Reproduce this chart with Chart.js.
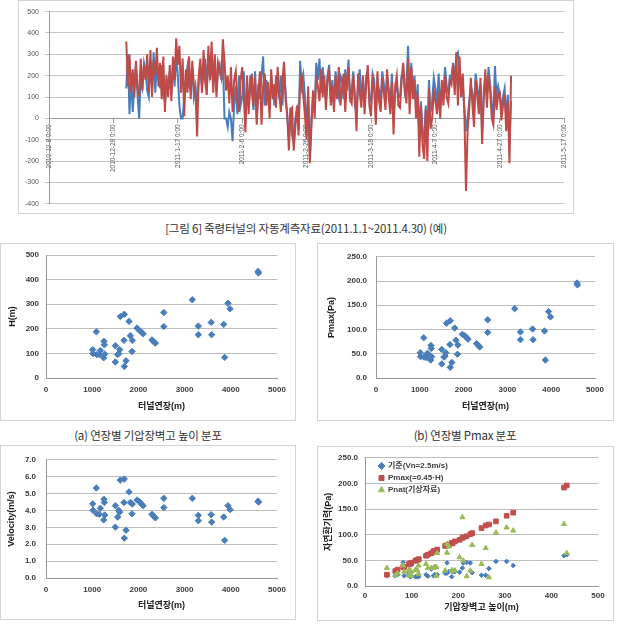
<!DOCTYPE html>
<html>
<head>
<meta charset="utf-8">
<script src="https://cdn.jsdelivr.net/npm/chart.js@4.4.1/dist/chart.umd.min.js"></script>
<style>
    body { margin: 0; background: #fff; width: 619px; height: 630px; position: relative; overflow: hidden; font-family: 'Noto Sans CJK KR', sans-serif; }
    canvas, .frame, .caption { position: absolute; }
    .frame { border: 1px solid #d4d4d4; box-sizing: border-box; }
    .caption { font-size: 11.5px; color: #333; white-space: nowrap; transform: translateX(-50%); line-height: 14px; letter-spacing: -0.2px; }
</style>
</head>
<body>
<div class="frame" style="left:18px;top:0;width:556px;height:214px"></div>
<canvas id="lineChart" width="556" height="214" style="left:18px;top:0"></canvas>
<div class="caption" style="left:306px;top:221px">[그림 6] 죽령터널의 자동계측자료(2011.1.1~2011.4.30) (예)</div>

<div class="frame" style="left:0;top:243px;width:296px;height:178px"></div>
<canvas id="chartH" width="296" height="178" style="left:0;top:243px"></canvas>
<div class="frame" style="left:317px;top:243px;width:297px;height:178px"></div>
<canvas id="chartPmax" width="297" height="178" style="left:317px;top:243px"></canvas>
<div class="caption" style="left:148px;top:428px">(a) 연장별 기압장벽고 높이 분포</div>
<div class="caption" style="left:465px;top:428px">(b) 연장별 Pmax 분포</div>

<div class="frame" style="left:0;top:445px;width:296px;height:175px"></div>
<canvas id="chartV" width="296" height="175" style="left:0;top:445px"></canvas>
<div class="frame" style="left:317px;top:446px;width:297px;height:175px"></div>
<canvas id="chartP" width="297" height="175" style="left:317px;top:446px"></canvas>

<script>
// ---- top chart: automatic measurement (12-hour samples from 2011-1-1) ----
const dateTickLabels = ['2010-12-8 0:00', '2010-12-28 0:00', '2011-1-17 0:00', '2011-2-6 0:00', '2011-2-26 0:00',
    '2011-3-18 0:00', '2011-4-7 0:00', '2011-4-27 0:00', '2011-5-17 0:00'];
const sampleStartDay = 24;   // days after 2010-12-8
const sampleStepDay = 0.5;

const redValues = [
    360, 150, 300, 120, 230, 100, 270, 140, 110, 280, 130, 250, 180, 300, 120, 320, 100, 270, 200, 330,
    150, 260, 90, 290, 30, 200, 100, 250, 80, 290, 180, 375, 250, 340, 120, 280, 10, 230, 120, 290,
    90, 270, 150, 110, -85, 200, 280, 120, 320, 170, 110, 340, 180, 360, 120, 300, 100, 260, 220, 190,
    370, 270, 130, 200, 70, 240, 30, 180, 220, 80, 30, 180, 240, 100, -65, 200, 20, 150, 210, 60,
    190, -30, 120, 220, -30, 150, 210, 60, 170, 0, 230, 90, 160, 50, 240, 120, 30, 180, 265, 80,
    20, -150, 40, 50, -150, -40, 60, -80, 180, 200, 100, 10, -100, 150, -210, -40, 130, 0, 200, 150,
    80, 230, 100, 200, 40, 180, 220, 60, 150, 30, 200, 90, 240, 60, 140, 210, 30, 180, 240, 90,
    70, 200, 110, -60, 210, 120, 50, 200, 20, 160, 250, 60, 10, 180, 140, -30, 220, 80, 30, 190,
    120, 40, 230, 100, 20, 170, -75, 150, 200, 60, 50, 180, 260, 150, 70, 280, 20, 240, 90, 180,
    0, 120, -180, 60, -120, -190, 40, -200, 140, -50, 0, 130, 80, 20, 120, 0, 180, 60, 200, 100,
    70, 180, 160, 250, 110, 310, 60, 290, 100, 210, 20, -340, -60, 40, 190, 60, -40, 180, 110, 20,
    190, -120, 80, 230, 50, 200, 130, 0, -30, 150, 40, 110, 120, -10, 60, 110, -60, 80, -210, 200
];
const blueValues = [
    140, 300, 20, 200, 30, 150, 250, 110, 0, 200, 150, 260, 220, 130, 100, 270, 150, 310, 120, 250,
    200, 140, 250, 110, 80, 180, 140, 220, 110, 260, 150, 300, 200, 60, 0, 0, 100, 180, 240, 150,
    130, 240, 100, 150, 60, 180, 230, 150, 200, 280, 150, 300, 200, 250, 150, 280, 120, 220, 250, 180,
    280, 0, 0, -40, 30, 0, -107, 60, 150, 20, 200, 60, 100, 220, -20, 150, 60, 200, 120, 40,
    220, 0, 160, 90, 200, 290, 60, 180, 100, 40, 200, 130, 60, 200, 140, 100, 200, 60, 230, 120,
    0, -100, 50, -80, -120, 0, 40, -50, 270, 150, 200, 100, -50, 100, -180, 0, 100, 50, 260, 180,
    280, 120, 240, 160, 90, 200, 250, 100, 180, 60, 220, 140, 100, 200, 180, 90, 230, 130, 275, 100,
    130, 220, 60, 20, 170, 230, 90, 180, 60, 200, 220, 100, 80, 210, 180, 20, 170, 130, 90, 220,
    160, 80, 200, 140, 60, 210, 0, 120, 160, 100, 100, 200, 210, 120, 150, 340, 100, 260, 130, 200,
    40, 160, -100, 80, -60, -100, 60, -80, 180, 30, 80, 190, 140, 60, 210, 50, 140, 120, 240, 150,
    120, 200, 200, 260, 150, 300, 310, 200, 120, 150, 50, -60, 0, 80, 150, 120, 40, 210, 150, 80,
    160, -60, 120, 200, 100, 240, 160, 60, 20, 245, 100, 150, 110, 40, 100, 140, 0, 110, -120, 80
];

// ---- tunnels (one entry per tunnel) ----
const tunnelLength = [4590, 4600, 3167, 3939, 3983, 2550, 2550, 3297, 3297, 3575, 3586, 3846, 3867, 1090, 1609,
    1695, 1797, 1970, 2027, 2063, 2100, 1825, 1868, 1688, 2294, 2330, 2367, 1255, 1263, 1010,
    1017, 1176, 1097, 1154, 1270, 1248, 1501, 1595, 1573, 1551, 1861, 1501, 1732, 1695];
const barrierHeight = [433, 427, 318, 304, 281, 266, 209, 211, 176, 226, 176, 218, 84, 188, 250,
    259, 230, 203, 193, 186, 180, 172, 153, 153, 155, 147, 142, 149, 135, 115,
    99, 112, 95, 95, 97, 82, 131, 115, 99, 95, 108, 65, 70, 47];
const pmaxValues = [196, 192, 143, 137, 126, 120, 94, 95, 79, 101, 79, 97, 37, 83, 113,
    118, 103, 90, 87, 84, 80, 78, 68, 69, 71, 68, 64, 67, 61, 52,
    44, 51, 43, 42, 44, 37, 59, 52, 45, 43, 49, 29, 32, 22];
const velocityValues = [4.55, 4.50, 4.72, 4.28, 4.05, 4.72, 4.17, 3.71, 3.39, 3.75, 3.31, 3.61, 2.23, 5.33, 5.80,
    5.86, 5.10, 4.62, 4.51, 4.39, 4.28, 4.47, 4.38, 4.47, 3.77, 3.67, 3.56, 4.66, 4.47, 4.39,
    4.01, 4.13, 3.80, 3.77, 3.73, 3.44, 4.28, 3.90, 4.01, 3.61, 3.80, 3.01, 2.83, 2.36];
const baseValues = [61, 59, 40, 48, 48, 34, 35, 45, 45, 45, 25, 46, 20, 28, 21,
    21, 26, 27, 28, 18, 28, 25, 22, 20, 22, 20, 33, 22, 19, 22,
    20, 18, 20, 22, 18, 46, 22, 18, 19, 25, 18, 20, 22, 20];
const pnatValues = [64, 121, 108, 114, 104, 17, 134, 49, 65, 30, 82, 19, 28, 30, 43,
    74, 80, 56, 30, 30, 77, 30, 37, 20, 64, 35, 35, 37, 35, 40,
    28, 31, 30, 20, 24, 40, 43, 24, 20, 32, 31, 21, 25, 35];

const seriesLabels = ['기준(Vn=2.5m/s)', 'Pmax(=0.45·H)', 'Pnat(기상자료)'];

const blue = '#4A7EBB';
const red = '#BE4B48';
const green = '#9BBB59';
const fontFamily = "'Liberation Sans', 'Noto Sans CJK KR', sans-serif";
const tickFont = { family: fontFamily, size: 8, weight: 'bold' };
const titleFont = { family: fontFamily, size: 9, weight: 'bold' };
const gridColor = '#bdbdbd';

function toPoints(values) {
    return values.map((v, i) => ({ x: sampleStartDay + i * sampleStepDay, y: v }));
}

function pairs(xs, ys) {
    return xs.map((x, i) => ({ x: x, y: ys[i] }));
}

// move the in-plot legend a little away from the axes, like the Excel original
const legendNudge = {
    id: 'legendNudge',
    afterLayout(chart, args, opts) {
        if (chart.legend && opts.dx !== undefined) {
            chart.legend.left += opts.dx;
            chart.legend.top += opts.dy;
        }
    }
};

function createLineChart() {
    const ctx = document.getElementById('lineChart').getContext('2d');
    new Chart(ctx, {
        type: 'line',
        data: {
            datasets: [
                { data: toPoints(redValues), borderColor: red, borderWidth: 2, pointRadius: 0 },
                { data: toPoints(blueValues), borderColor: blue, borderWidth: 2, pointRadius: 0 }
            ]
        },
        options: {
            responsive: false,
            animation: false,
            layout: { padding: { top: 11.6, right: 8, bottom: 6.3, left: 0 } },
            plugins: { legend: { display: false }, tooltip: { enabled: false } },
            scales: {
                x: {
                    type: 'linear',
                    position: { y: 0 },
                    min: 0,
                    max: 160,
                    ticks: {
                        stepSize: 20,
                        autoSkip: false,
                        minRotation: 90,
                        maxRotation: 90,
                        padding: 2,
                        font: { family: fontFamily, size: 6.5 },
                        color: '#555',
                        callback: (value, index) => dateTickLabels[index]
                    },
                    grid: { drawOnChartArea: false, tickLength: 4, color: '#999' },
                    border: { color: '#999' }
                },
                y: {
                    min: -400,
                    max: 500,
                    afterFit: (scale) => { scale.width = 31; },
                    ticks: { stepSize: 100, padding: 6, font: { family: fontFamily, size: 7 }, color: '#555' },
                    grid: { color: '#c4c4c4', tickLength: 4 },
                    border: { color: '#999' }
                }
            }
        }
    });
}

// shared layout for the four scatter panels
function createScatter(canvasId, datasets, cfg) {
    const ctx = document.getElementById(canvasId).getContext('2d');
    return new Chart(ctx, {
        type: 'scatter',
        data: { datasets: datasets },
        plugins: [legendNudge],
        options: {
            responsive: false,
            animation: false,
            layout: { padding: { top: cfg.padTop, right: cfg.padRight, bottom: 0, left: 0 } },
            plugins: {
                legend: cfg.legend || { display: false },
                legendNudge: cfg.legendNudge || {},
                tooltip: { enabled: false }
            },
            scales: {
                x: {
                    type: 'linear',
                    min: 0,
                    max: cfg.xMax,
                    afterFit: (scale) => { scale.height = cfg.xAxisHeight; },
                    ticks: {
                        stepSize: cfg.xStep,
                        padding: cfg.xTickPad,
                        font: tickFont,
                        color: '#3a3a3a',
                        callback: (value) => String(value)
                    },
                    grid: { drawOnChartArea: false, drawTicks: false },
                    border: { color: '#999' },
                    title: { display: true, text: cfg.xTitle, font: titleFont, color: '#222', padding: { top: 0, bottom: cfg.xTitlePad } }
                },
                y: {
                    min: 0,
                    max: cfg.yMax,
                    afterFit: (scale) => { scale.width = cfg.yAxisWidth; },
                    ticks: {
                        stepSize: cfg.yStep,
                        padding: cfg.yTickPad,
                        font: tickFont,
                        color: '#3a3a3a',
                        callback: (value) => value.toFixed(cfg.yDecimals)
                    },
                    grid: { color: gridColor, drawTicks: false },
                    border: { color: '#999' },
                    title: { display: true, text: cfg.yTitle, font: titleFont, color: '#222', padding: { top: cfg.yTitlePad, bottom: 0 } }
                }
            }
        }
    });
}

function diamondSet(data, radius) {
    return { data: data, pointStyle: 'rectRot', pointRadius: radius, backgroundColor: blue, borderColor: blue, borderWidth: 1 };
}

createLineChart();

createScatter('chartH', [diamondSet(pairs(tunnelLength, barrierHeight), 3.2)], {
    padTop: 12, padRight: 19, xAxisHeight: 43, yAxisWidth: 46,
    xMax: 5000, xStep: 1000, xTickPad: 7, xTitle: '터널연장(m)', xTitlePad: 8.6,
    yMax: 500, yStep: 50, yDecimals: 0, yTickPad: 7, yTitle: 'H(m)', yTitlePad: 7.3
});

createScatter('chartPmax', [diamondSet(pairs(tunnelLength, pmaxValues), 3.2)], {
    padTop: 12, padRight: 19, xAxisHeight: 43, yAxisWidth: 59,
    xMax: 5000, xStep: 1000, xTickPad: 7, xTitle: '터널연장(m)', xTitlePad: 8.6,
    yMax: 250, yStep: 50, yDecimals: 1, yTickPad: 9, yTitle: 'Pmax(Pa)', yTitlePad: 9.6
});

createScatter('chartV', [diamondSet(pairs(tunnelLength, velocityValues), 3.2)], {
    padTop: 10, padRight: 19, xAxisHeight: 42, yAxisWidth: 46,
    xMax: 5000, xStep: 1000, xTickPad: 7, xTitle: '터널연장(m)', xTitlePad: 8.6,
    yMax: 7, yStep: 1, yDecimals: 1, yTickPad: 10, yTitle: 'Velocity(m/s)', yTitlePad: 6.3
});

createScatter('chartP', [
    { label: seriesLabels[0], data: pairs(barrierHeight, baseValues), order: 3, pointStyle: 'rectRot', pointRadius: 2.3,
        backgroundColor: blue, borderColor: blue, borderWidth: 1 },
    { label: seriesLabels[1], data: pairs(barrierHeight, pmaxValues), order: 2, pointStyle: 'rect', pointRadius: 3.3,
        backgroundColor: '#C0504D', borderColor: '#C0504D', borderWidth: 1 },
    { label: seriesLabels[2], data: pairs(barrierHeight, pnatValues), order: 1, pointStyle: 'triangle', pointRadius: 3,
        backgroundColor: green, borderColor: green, borderWidth: 1 }
], {
    padTop: 8, padRight: 16, xAxisHeight: 35, yAxisWidth: 48,
    xMax: 500, xStep: 100, xTickPad: 5, xTitle: '기압장벽고 높이(m)', xTitlePad: 7.9,
    yMax: 250, yStep: 50, yDecimals: 1, yTickPad: 7, yTitle: '자연환기력(Pa)', yTitlePad: 6,
    legendNudge: { dx: 10, dy: 12 },
    legend: {
        display: true,
        position: 'chartArea',
        align: 'start',
        labels: {
            usePointStyle: true,
            boxWidth: 5,
            boxHeight: 5,
            padding: 4,
            font: { family: fontFamily, size: 8, weight: 'bold' },
            color: '#404040',
            sort: (a, b) => a.datasetIndex - b.datasetIndex
        }
    }
});
</script>
</body>
</html>
